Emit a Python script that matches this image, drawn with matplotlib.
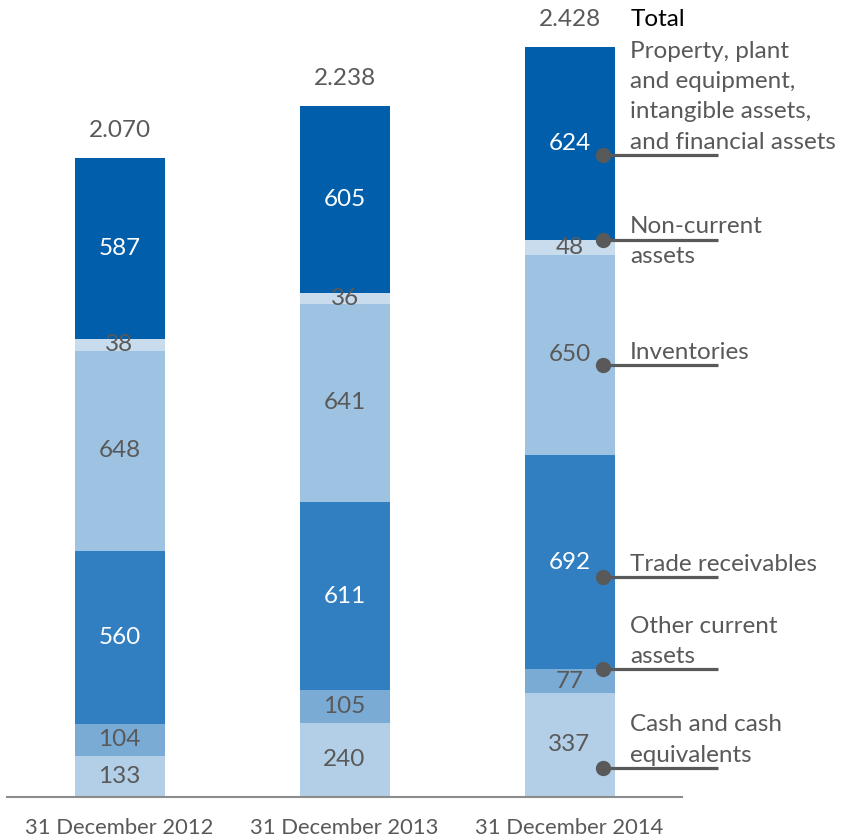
import matplotlib.pyplot as plt
import numpy as np

plt.rcParams['font.family'] = ['Lato', 'DejaVu Sans']

dates = ['31 December 2012', '31 December 2013', '31 December 2014']
cash = [133, 240, 337]
other_current = [104, 105, 77]
receivables = [560, 611, 692]
inventories = [648, 641, 650]
non_current = [38, 36, 48]
ppe = [587, 605, 624]
totals = ['2.070', '2.238', '2.428']

segments = [cash, other_current, receivables, inventories, non_current, ppe]
names = ['Cash and cash\nequivalents', 'Other current\nassets', 'Trade receivables',
         'Inventories', 'Non-current\nassets',
         'Property, plant\nand equipment,\nintangible assets,\nand financial assets']
colors = ['#b2cfe7', '#7aabd5', '#317fc0', '#9ec2e2', '#c8dcee', '#005eaa']
text_colors = ['#595959', '#595959', 'white', '#595959', '#595959', 'white']
# where on the last bar each leader dot sits (fraction of the segment height)
dot_frac = [0.28, 1.0, 0.43, 0.45, 1.0, 0.44]
label_dy = [1.5, 1.5, 1.5, 1.5, -20, 1.5]

grey = '#595959'
fs = 17.5

fig = plt.figure(figsize=(8.42, 8.40), dpi=100)
ax = fig.add_axes([7 / 842, 43 / 840, 675 / 842, 797 / 840])

x = np.arange(len(dates))
bottom = np.zeros(len(dates))
for vals, col, tc in zip(segments, colors, text_colors):
    vals = np.array(vals, dtype=float)
    ax.bar(x, vals, 0.4, bottom=bottom, color=col, edgecolor='none')
    for xi, b, v in zip(x, bottom, vals):
        ax.text(xi, b + v / 2, '%d' % v, ha='center', va='center',
                color=tc, fontsize=fs)
    bottom += vals

for xi, top, t in zip(x, bottom, totals):
    ax.annotate(t, (xi, top), xytext=(0, 12), textcoords='offset points',
                ha='center', va='bottom', color=grey, fontsize=fs)

# leader lines and labels beside the last bar
b = 0
for vals, name, frac, dy in zip(segments, names, dot_frac, label_dy):
    y = b + vals[-1] * frac
    ax.plot([2.147, 2.658], [y, y], color=grey, lw=2.3, clip_on=False,
            solid_capstyle='butt')
    ax.plot(2.147, y, 'o', color=grey, ms=10, clip_on=False)
    ax.annotate(name, (2.27, y), xytext=(0, dy), textcoords='offset points',
                ha='left', va='bottom', color=grey, fontsize=fs,
                linespacing=1.55, annotation_clip=False)
    b += vals[-1]

ax.annotate('Total', (2.27, bottom[-1]), xytext=(0, 12), textcoords='offset points',
            ha='left', va='bottom', color='black', fontsize=fs, annotation_clip=False)

ax.set_xlim(-0.5, 2.5)
ax.set_ylim(0, 2580)
ax.set_xticks(x)
ax.set_xticklabels(dates, fontsize=15.8, color=grey)
ax.tick_params(axis='x', length=0, pad=15)
ax.set_yticks([])
for s in ['top', 'right', 'left']:
    ax.spines[s].set_visible(False)
ax.spines['bottom'].set_color('#8c8c8c')
ax.spines['bottom'].set_linewidth(1.5)

fig.savefig('out.png', dpi=100)
